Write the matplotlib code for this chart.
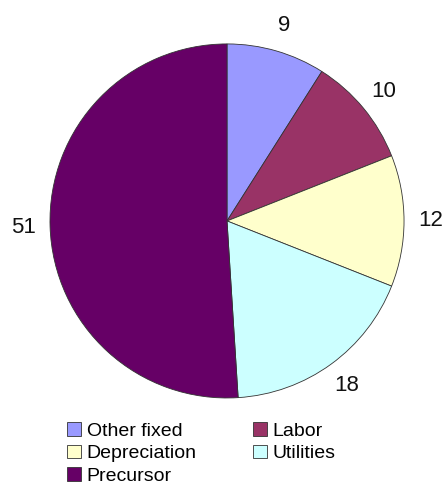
import matplotlib
matplotlib.use('Agg')
import matplotlib.pyplot as plt

plt.rcParams['font.family'] = ['Liberation Sans', 'DejaVu Sans']

categories = ['Other fixed', 'Labor', 'Depreciation', 'Utilities', 'Precursor']
values = [9, 10, 12, 18, 51]
colors = ['#9999FF', '#993366', '#FFFFCC', '#CCFFFF', '#660066']

fig = plt.figure(figsize=(4.42, 4.87), dpi=100)
ax = fig.add_axes([0.1131, 0.1828, 0.801, 0.727])

wedges, texts = ax.pie(values, labels=[str(v) for v in values], colors=colors,
                       startangle=90, counterclock=False, radius=1,
                       labeldistance=1.15,
                       wedgeprops=dict(edgecolor='#333333', linewidth=0.6),
                       textprops=dict(fontsize=16, color='#111111'))
for t in texts:
    t.set_ha('center')
    t.set_va('center')
ax.set_xlim(-1, 1)
ax.set_ylim(-1, 1)
ax.set_aspect('equal')

# row-major legend order for ncol=2
order = [0, 2, 4, 1, 3]
fig.legend([wedges[i] for i in order], [categories[i] for i in order],
           ncol=2, loc='upper left', bbox_to_anchor=(0.152, 0.133),
           frameon=False, fontsize=14, handlelength=0.7, handleheight=0.7,
           handletextpad=0.3, labelspacing=0.25, columnspacing=2.9,
           borderpad=0, borderaxespad=0)

fig.savefig('out.png', dpi=100)
